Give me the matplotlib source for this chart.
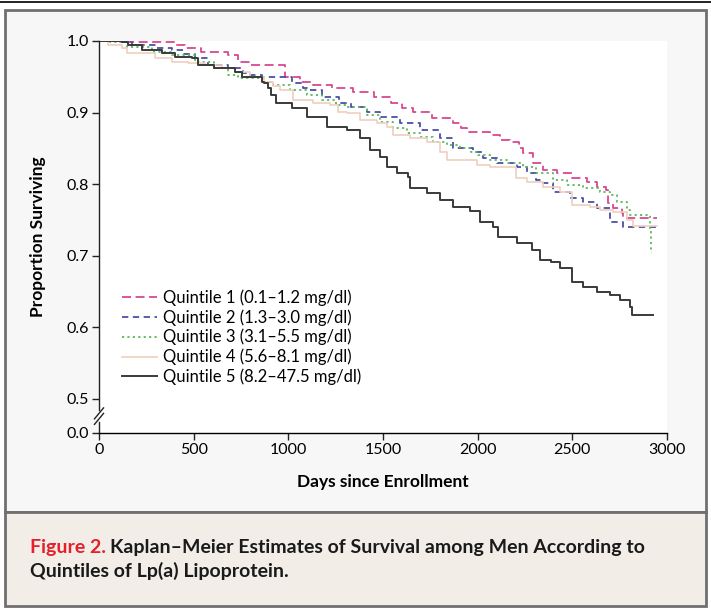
import matplotlib
matplotlib.use("Agg")
import matplotlib.pyplot as plt
from matplotlib.patches import Rectangle
from matplotlib.lines import Line2D

plt.rcParams['font.family'] = ['Lato', 'DejaVu Sans']

# Kaplan-Meier step points: (days, proportion surviving)
q1_days = [0, 160, 400, 455, 540, 680, 735, 805, 985, 1060, 1130, 1230, 1340, 1450, 1540, 1600,
           1660, 1760, 1870, 1910, 1945, 2065, 2120, 2170, 2220, 2240, 2290, 2345, 2420, 2500,
           2580, 2630, 2680, 2690, 2715, 2760, 2770, 2947]
q1_surv = [1.0, 0.998, 0.995, 0.990, 0.985, 0.980, 0.971, 0.966, 0.950, 0.943, 0.939, 0.934, 0.929,
           0.922, 0.913, 0.907, 0.901, 0.892, 0.885, 0.878, 0.873, 0.869, 0.862, 0.859, 0.850,
           0.844, 0.830, 0.820, 0.816, 0.809, 0.803, 0.796, 0.792, 0.774, 0.767, 0.760, 0.753, 0.753]

q2_days = [0, 100, 175, 300, 385, 450, 505, 575, 680, 760, 790, 860, 1020, 1080, 1100, 1180, 1270,
           1330, 1415, 1485, 1590, 1695, 1800, 1870, 1975, 2030, 2100, 2210, 2260, 2310, 2345,
           2400, 2490, 2555, 2630, 2700, 2770, 2947]
q2_surv = [1.0, 0.998, 0.995, 0.990, 0.987, 0.982, 0.976, 0.966, 0.962, 0.955, 0.953, 0.950, 0.941,
           0.934, 0.932, 0.922, 0.913, 0.908, 0.901, 0.894, 0.885, 0.876, 0.864, 0.851, 0.845,
           0.837, 0.830, 0.824, 0.816, 0.806, 0.802, 0.789, 0.781, 0.775, 0.767, 0.747, 0.740, 0.740]

q3_days = [0, 60, 150, 280, 385, 505, 610, 680, 735, 865, 920, 1010, 1100, 1180, 1250, 1310, 1415,
           1485, 1555, 1625, 1695, 1765, 1840, 1905, 1965, 2000, 2065, 2155, 2240, 2310, 2400,
           2470, 2555, 2645, 2700, 2735, 2790, 2805, 2912, 2918, 2921]
q3_surv = [1.0, 0.998, 0.992, 0.985, 0.980, 0.971, 0.962, 0.953, 0.948, 0.943, 0.939, 0.932, 0.925,
           0.918, 0.911, 0.908, 0.897, 0.887, 0.878, 0.871, 0.866, 0.859, 0.855, 0.851, 0.845,
           0.841, 0.834, 0.830, 0.824, 0.816, 0.806, 0.799, 0.795, 0.789, 0.785, 0.775, 0.764,
           0.757, 0.736, 0.705, 0.705]

q4_days = [0, 45, 120, 150, 295, 385, 470, 560, 650, 720, 800, 870, 920, 956, 1025, 1130, 1220,
           1260, 1310, 1380, 1470, 1520, 1555, 1645, 1735, 1800, 1840, 1995, 2065, 2205, 2260,
           2345, 2435, 2500, 2595, 2645, 2715, 2790, 2820, 2947]
q4_surv = [1.0, 0.994, 0.990, 0.983, 0.976, 0.971, 0.969, 0.966, 0.962, 0.957, 0.950, 0.943, 0.937,
           0.932, 0.918, 0.913, 0.911, 0.901, 0.900, 0.890, 0.885, 0.880, 0.869, 0.865, 0.859,
           0.845, 0.834, 0.827, 0.824, 0.809, 0.803, 0.796, 0.789, 0.771, 0.768, 0.764, 0.761,
           0.750, 0.742, 0.742]

q5_days = [0, 120, 155, 225, 335, 400, 490, 525, 610, 720, 755, 860, 870, 895, 910, 935, 1020,
           1100, 1205, 1310, 1380, 1430, 1485, 1520, 1575, 1630, 1645, 1735, 1800, 1870, 1960,
           2010, 2080, 2110, 2210, 2285, 2330, 2385, 2435, 2500, 2555, 2630, 2700, 2750, 2805,
           2815, 2926]
q5_surv = [1.0, 0.998, 0.994, 0.987, 0.983, 0.978, 0.976, 0.966, 0.962, 0.957, 0.950, 0.943, 0.941,
           0.934, 0.925, 0.913, 0.906, 0.894, 0.880, 0.876, 0.864, 0.848, 0.838, 0.824, 0.816,
           0.810, 0.795, 0.788, 0.778, 0.768, 0.762, 0.747, 0.740, 0.726, 0.718, 0.708, 0.694,
           0.691, 0.683, 0.663, 0.656, 0.649, 0.645, 0.638, 0.628, 0.617, 0.617]

labels = ["Quintile 1 (0.1\u20131.2 mg/dl)", "Quintile 2 (1.3\u20133.0 mg/dl)",
          "Quintile 3 (3.1\u20135.5 mg/dl)", "Quintile 4 (5.6\u20138.1 mg/dl)",
          "Quintile 5 (8.2\u201347.5 mg/dl)"]
x_ticks = [0, 500, 1000, 1500, 2000, 2500, 3000]
y_tick_labels = ["0.0", "0.5", "0.6", "0.7", "0.8", "0.9", "1.0"]

# broken axis: 0.0 is drawn a short distance under 0.5
Y_ZERO = 0.4525
W, H = 711, 611

fig = plt.figure(figsize=(7.11, 6.11), dpi=100)
fig.patch.set_facecolor('white')

def fx(px):
    return px / W

def fy(py):
    return 1 - py / H

# panels (behind the axes)
fig.add_artist(Line2D([0, 1], [fy(2), fy(2)], color='#222222', lw=1.4, zorder=-2))
fig.add_artist(Rectangle((fx(5), fy(512)), fx(701), 502 / H, facecolor='#f7f7f7',
                         edgecolor='#707070', lw=2, zorder=-2))
fig.add_artist(Rectangle((fx(5), fy(606)), fx(701), 94 / H, facecolor='#f2ede7',
                         edgecolor='#707070', lw=2, zorder=-2))

ax = fig.add_axes([fx(99), fy(433), fx(568), 392 / H])
ax.set_facecolor('white')

styles = [
    dict(color='#d9498f', lw=1.3, dashes=(5, 2.5)),
    dict(color='#4b4fa6', lw=1.3, dashes=(3.5, 2.5)),
    dict(color='#5cb85c', lw=1.3, dashes=(1.2, 1.8)),
    dict(color='#efcfbf', lw=1.2, linestyle='-'),
    dict(color='#3a3a3a', lw=1.4, linestyle='-'),
]
series = [(q1_days, q1_surv), (q2_days, q2_surv), (q3_days, q3_surv),
          (q4_days, q4_surv), (q5_days, q5_surv)]
for (d, s), lab, st in zip(series, labels, styles):
    ax.plot(d, s, drawstyle='steps-post', label=lab, **st)

ax.set_xlim(0, 3000)
ax.set_ylim(Y_ZERO, 1.0)
ax.set_xticks(x_ticks)
ax.set_yticks([Y_ZERO, 0.5, 0.6, 0.7, 0.8, 0.9, 1.0])
ax.set_yticklabels(y_tick_labels)
ax.tick_params(direction='out', length=5, width=1, labelsize=11.5, color='#222222', pad=2)
for side in ['top', 'right', 'left']:
    ax.spines[side].set_visible(False)
ax.spines['bottom'].set_linewidth(1)

# left axis with break marks
ax.plot([0, 0], [Y_ZERO, 0.468], color='#222222', lw=1, clip_on=False)
ax.plot([0, 0], [0.484, 1.0], color='#222222', lw=1, clip_on=False)
for off in [0.0, 0.014]:
    ax.plot([-0.008, 0.008], [0.022 + off, 0.050 + off], transform=ax.transAxes,
            color='#222222', lw=1, clip_on=False)

ax.set_xlabel('Days since Enrollment', fontsize=12.5, fontweight='bold')
ax.set_ylabel('Proportion Surviving', fontsize=12.5, fontweight='bold')
ax.xaxis.set_label_coords(0.5, -0.105)
ax.yaxis.set_label_coords(-0.094, 0.5)

ax.legend(loc='upper left', bbox_to_anchor=(0.04, 0.367), frameon=False, fontsize=12,
          handlelength=2.1, handletextpad=0.4, labelspacing=0.2, borderpad=0, borderaxespad=0)

# caption
t1 = fig.text(fx(30), fy(553), 'Figure 2.', color='#e4202a', fontsize=14, fontweight='bold')
fig.canvas.draw()
bb = t1.get_window_extent()
fig.text(bb.x1 / W + fx(4), fy(553), 'Kaplan\u2013Meier Estimates of Survival among Men According to',
         color='#1a1a1a', fontsize=14, fontweight='bold')
fig.text(fx(30), fy(577), 'Quintiles of Lp(a) Lipoprotein.', color='#1a1a1a', fontsize=14,
         fontweight='bold')

fig.savefig('out.png', dpi=100)
